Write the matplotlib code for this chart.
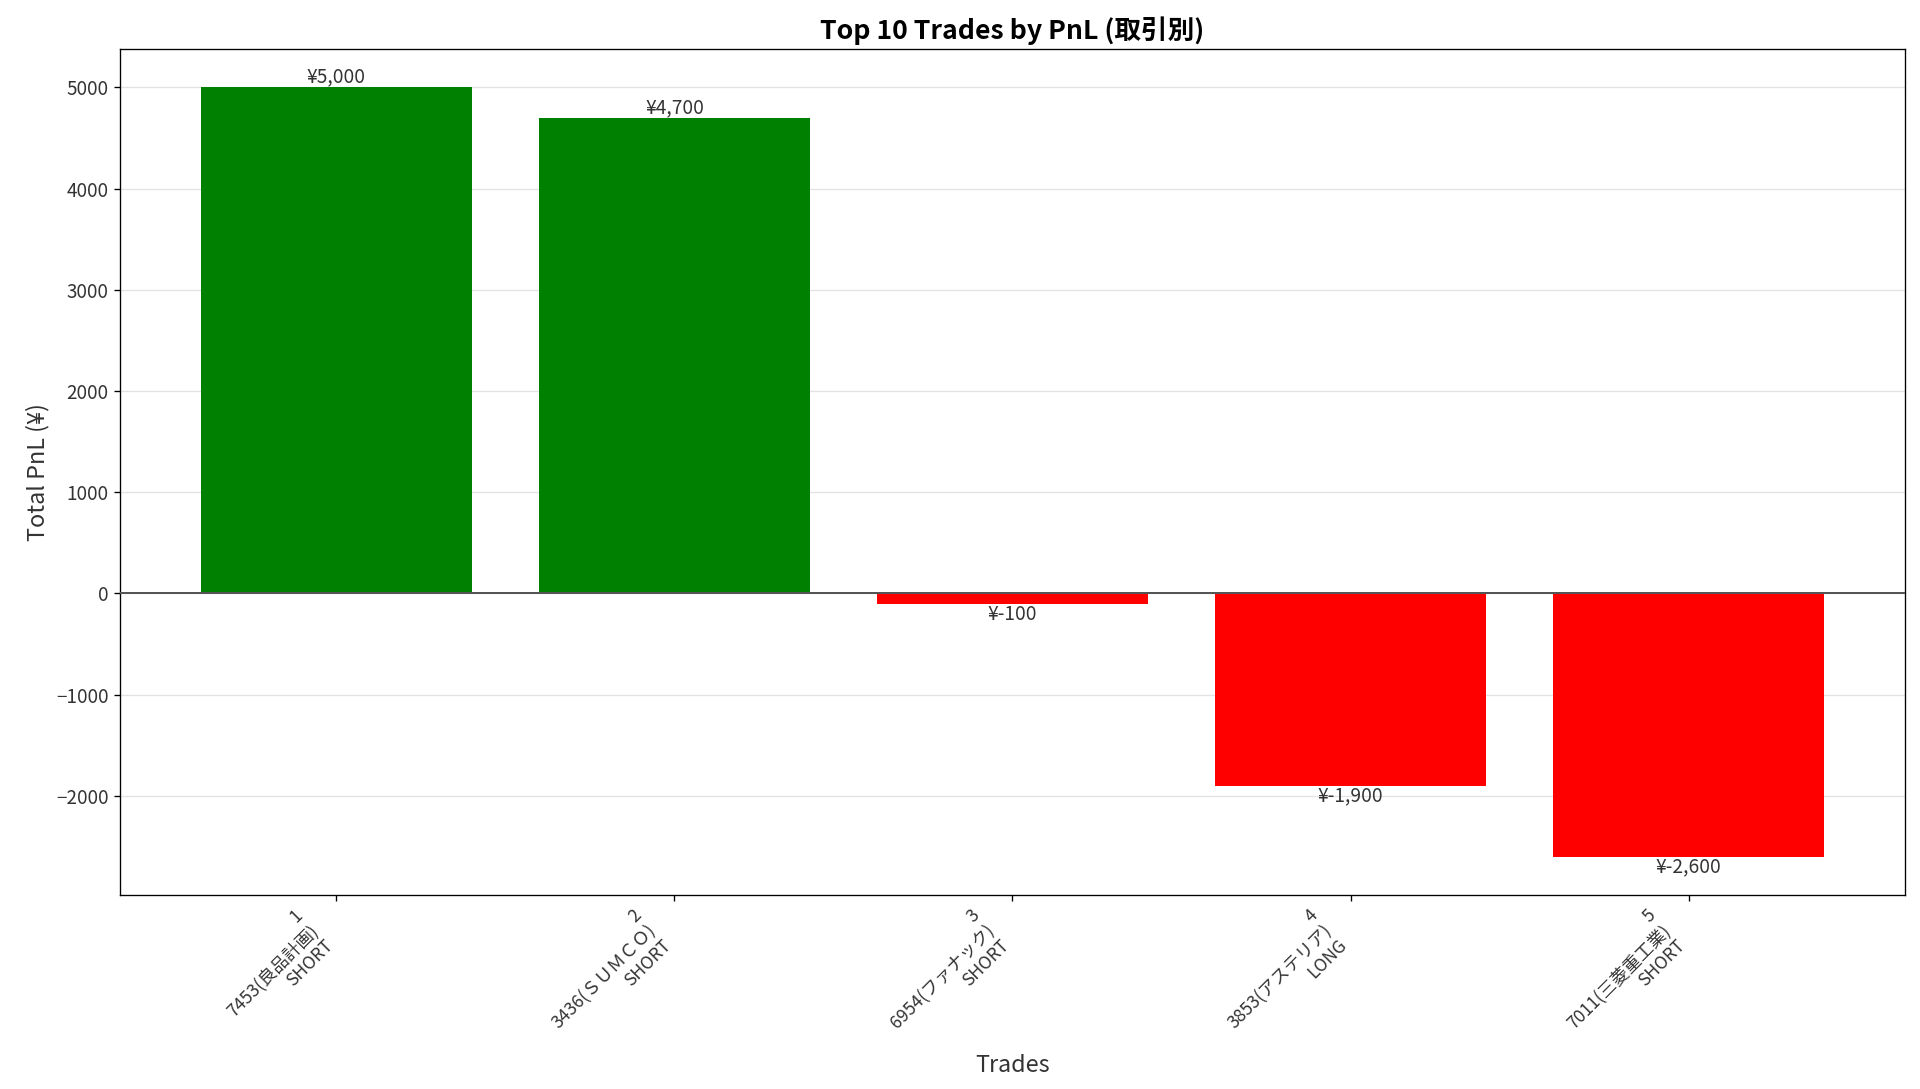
import numpy as np
import matplotlib.pyplot as plt

plt.rcParams['font.family'] = ['Noto Sans CJK JP', 'DejaVu Sans']
plt.rcParams['axes.unicode_minus'] = True

ranks = [1, 2, 3, 4, 5]
tickers = ["7453(良品計画)", "3436(ＳＵＭＣＯ)", "6954(ファナック)", "3853(アステリア)", "7011(三菱重工業)"]
sides = ["SHORT", "SHORT", "SHORT", "LONG", "SHORT"]
pnl = [5000, 4700, -100, -1900, -2600]

labels = [f"{r}\n{t}\n{s}" for r, t, s in zip(ranks, tickers, sides)]
colors = ['green' if v > 0 else 'red' for v in pnl]
txt = '#333333'

fig = plt.figure(figsize=(16, 9.075), dpi=120)
ax = fig.add_axes([120 / 1920, 1 - 895 / 1089, 1785 / 1920, 846 / 1089])

x = np.arange(len(pnl))
bars = ax.bar(x, pnl, color=colors, width=0.8, zorder=2)
ax.axhline(0, color='#555555', linewidth=1.2, zorder=3)
ax.grid(axis='y', color='#dddddd', linewidth=0.8, alpha=0.8, zorder=0)
ax.set_axisbelow(True)

for b, v in zip(bars, pnl):
    va = 'bottom' if v >= 0 else 'top'
    ax.text(b.get_x() + b.get_width() / 2, v, f"¥{v:,}", ha='center', va=va,
            fontsize=11.5, color=txt)

ax.set_xticks(x)
ax.set_xticklabels(labels, rotation=45, ha='right', fontsize=10.5, color=txt)
ax.tick_params(axis='y', labelsize=11.3, labelcolor=txt)
ax.set_title("Top 10 Trades by PnL (取引別)", fontsize=16, fontweight='bold')
ax.set_xlabel("Trades", fontsize=14, color=txt)
ax.set_ylabel("Total PnL (¥)", fontsize=14, color=txt)

fig.savefig("out.png", dpi=120)
